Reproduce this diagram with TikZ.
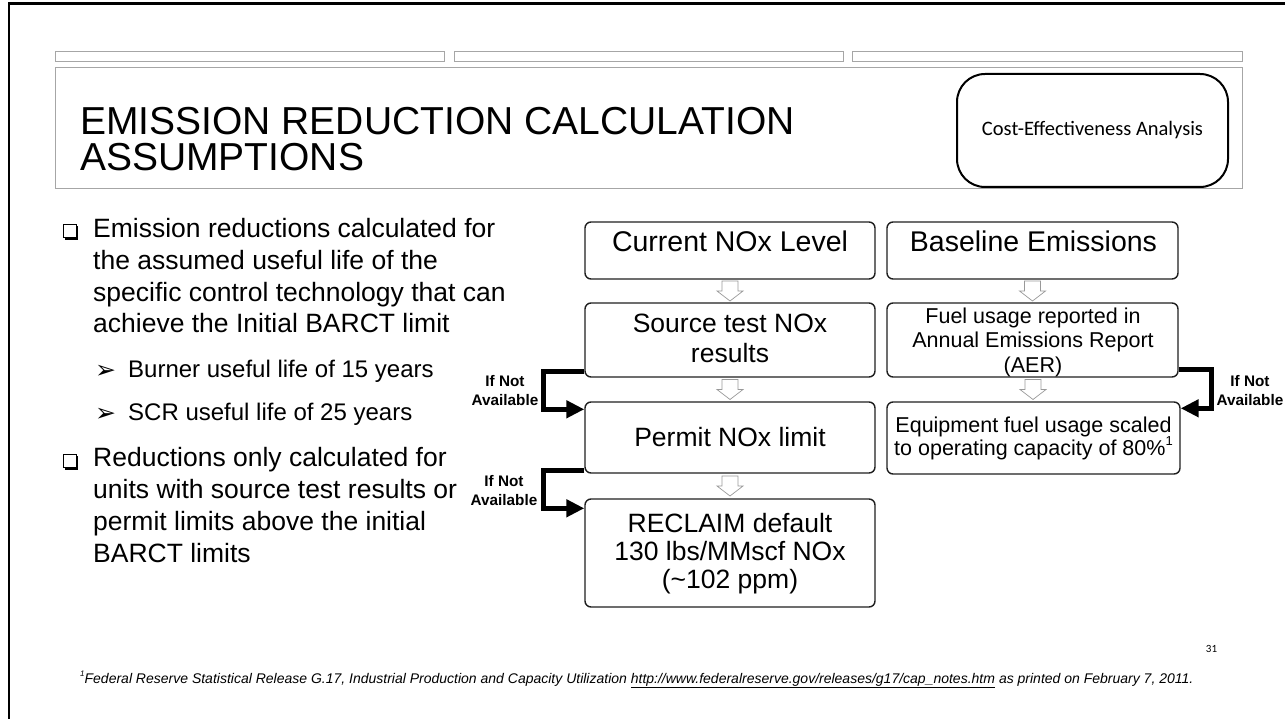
\documentclass[tikz,border=0pt]{standalone}
\usepackage{fontspec}
\setmainfont{Liberation Sans}
\newfontfamily\gillish{Carlito}
\newfontfamily\symfont{DejaVu Sans}
\usetikzlibrary{arrows.meta,calc}

\tikzset{
  flowbox/.style={draw=black!88, line width=1.4pt, rounded corners=6pt, fill=white,
                  minimum width=290pt, inner sep=0pt},
  hdtxt/.style={inner sep=0pt, font=\fontsize{28.5}{32}\selectfont},
  bodytxt/.style={inner sep=0pt, align=center, font=\fontsize{26.5}{29}\selectfont},
  smalltxt/.style={inner sep=0pt, align=center, font=\fontsize{21.5}{24.5}\selectfont},
  bullettxt/.style={inner sep=0pt, align=left, anchor=base west, font=\fontsize{26.5}{31.8}\selectfont},
  subtxt/.style={inner sep=0pt, anchor=base west, font=\fontsize{24}{28}\selectfont},
  arrowbullet/.style={inner sep=0pt, anchor=base west, font=\symfont\fontsize{25}{25}\selectfont},
  natxt/.style={inner sep=0pt, align=center, anchor=base, font=\fontsize{15.3}{19}\selectfont\bfseries},
  ifna/.style={line width=5pt, line join=miter, -{Triangle[length=18pt,width=17pt]}},
  greyframe/.style={draw=black!35, line width=0.9pt, fill=white},
  hollowdown/.pic={
    \draw[draw=black!40, fill=white, line width=0.7pt]
      (-8,-10) -- (8,-10) -- (8,0) -- (13,0) -- (0,10) -- (-13,0) -- (-8,0) -- cycle;
  },
  checkbullet/.pic={
    \draw[line width=0.8pt] (0,-13.5) rectangle (13,0);
    \fill (2,0) rectangle (15,2.4);
    \fill (13,-11.5) rectangle (15.4,2.4);
  }
}

\begin{document}
\begin{tikzpicture}[x=1pt, y=-1pt]
\useasboundingbox (0,0) rectangle (1285,719);
\fill[white] (0,0) rectangle (1285,719);

% slide frame
\draw[line width=2.4pt] (1285,3.5) -- (9,3.5) -- (9,719);

% header strips
\draw[greyframe] (55,51) rectangle (444,61);
\draw[greyframe] (454,51) rectangle (843,61);
\draw[greyframe] (852,51) rectangle (1242,61);

% title block
\draw[greyframe] (55,67) rectangle (1242,188);
\node[anchor=base west, align=left, inner sep=0pt,
      font=\fontsize{39}{36}\selectfont] (title) at (80,171)
  {EMISSION REDUCTION CALCULATION\\ASSUMPTIONS};

\node[draw, line width=2pt, rounded corners=28pt, fill=white,
      minimum width=271pt, minimum height=113pt, inner sep=0pt,
      font=\gillish\fontsize{20.5}{22}\selectfont] (cea) at (1092.5,130.5)
  {Cost-Effectiveness Analysis};

% bullet list
\pic at (63,237.5) {checkbullet};
\node[bullettxt] (b1) at (93,333)
  {Emission reductions calculated for\\the assumed useful life of the\\specific control technology that can\\achieve the Initial BARCT limit};
\node[arrowbullet] (a1) at (95,378) {➢};
\node[subtxt] (s1) at (128,377) {Burner useful life of 15 years};
\node[arrowbullet] (a2) at (95,421) {➢};
\node[subtxt] (s2) at (128,420) {SCR useful life of 25 years};
\pic at (63,467.5) {checkbullet};
\node[bullettxt] (b2) at (93,562)
  {Reductions only calculated for\\units with source test results or\\permit limits above the initial\\BARCT limits};

% NOx level chain
\node[flowbox, minimum height=57pt] (cur) at (730,250.5) {};
\node[hdtxt, anchor=base] (curT) at (730,252) {Current NOx Level};
\node[flowbox, minimum height=74pt] (src) at (730,340) {};
\node[bodytxt, anchor=base] (srcT) at (730,362) {Source test NOx\\results};
\node[flowbox, minimum height=71pt] (per) at (730,437.5) {};
\node[bodytxt, anchor=base] (perT) at (730,446) {Permit NOx limit};
\node[flowbox, minimum height=108pt] (rec) at (730,553) {};
\node[bodytxt, anchor=base, font=\fontsize{26.5}{28}\selectfont] (recT) at (730,588)
  {RECLAIM default\\130 lbs/MMscf NOx\\(\char`~102 ppm)};

% baseline emissions chain
\node[flowbox, minimum width=291pt, minimum height=57pt] (base) at (1032.5,250.5) {};
\node[hdtxt, anchor=base] (baseT) at (1033.5,252) {Baseline Emissions};
\node[flowbox, minimum width=291pt, minimum height=74pt] (fuel) at (1032.5,340) {};
\node[smalltxt, anchor=base] (fuelT) at (1033,372)
  {Fuel usage reported in\\Annual Emissions Report\\(AER)};
\node[flowbox, minimum width=293pt, minimum height=72pt] (equip) at (1033.5,438) {};
\node[smalltxt, anchor=base, font=\fontsize{21.5}{22.5}\selectfont] (equipT) at (1033.5,455)
  {Equipment fuel usage scaled\\to operating capacity of 80\%\raisebox{0.42em}{\fontsize{13}{13}\selectfont 1}};

% hollow step arrows
\pic at ($(cur.south)!0.5!(src.north)$) {hollowdown};
\pic at ($(src.south)!0.5!(per.north)$) {hollowdown};
\pic at ($(per.south)!0.5!(rec.north)$) {hollowdown};
\pic at ($(base.south)!0.5!(fuel.north)$) {hollowdown};
\pic at ($(fuel.south)!0.5!(equip.north)$) {hollowdown};

% fallback connectors
\draw[ifna] ($(src.south west)+(0,-6)$) -- ++(-41,0) |- ($(per.north west)+(0,8)$);
\draw[ifna] ($(per.south west)+(0,-3)$) -- ++(-41,0) |- ($(rec.north west)+(0,10)$);
\draw[ifna] ($(fuel.south east)+(0,-8)$) -- ++(33,0) |- ($(equip.north east)+(0,7)$);
\node[natxt] (na1) at (505,405) {If Not\\Available};
\node[natxt] (na2) at (504,505) {If Not\\Available};
\node[natxt] (na3) at (1250,405) {If Not\\Available};

% page number and footnote
\node[anchor=base, inner sep=0pt, font=\gillish\fontsize{11}{12}\selectfont] (pg) at (1211.5,652) {31};
\node[anchor=base west, inner sep=0pt, font=\fontsize{14}{16}\selectfont\itshape] (note) at (80,683)
  {\raisebox{0.45em}{\fontsize{8}{8}\selectfont 1}Federal Reserve Statistical Release G.17, Industrial Production and Capacity Utilization \underline{http://www.federalreserve.gov/releases/g17/cap\_notes.htm} as printed on February 7, 2011.};
\end{tikzpicture}
\end{document}
